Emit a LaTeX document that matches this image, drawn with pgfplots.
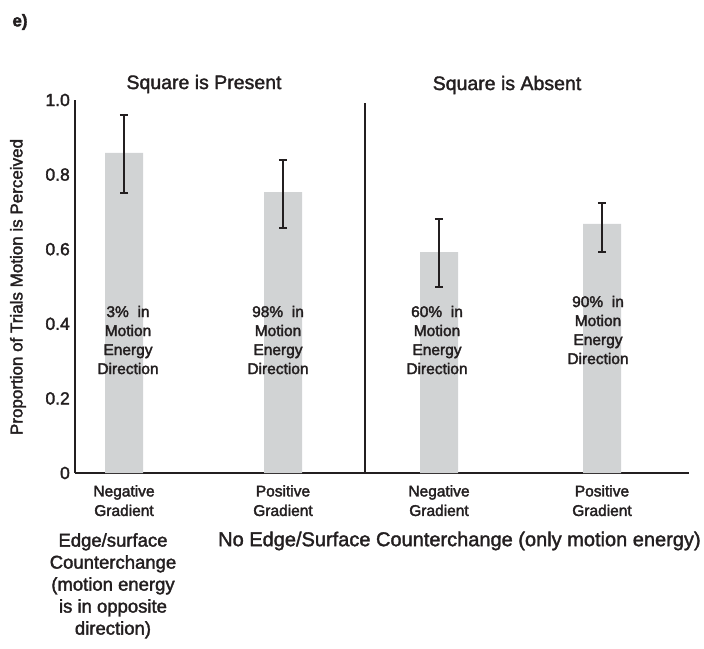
\documentclass[border=0pt]{standalone}
\usepackage{fontspec}
\setmainfont{Liberation Sans}
\usepackage{pgfplots}
\pgfplotsset{compat=1.18}
\usepackage{pgfplotstable}

\definecolor{bargray}{RGB}{209,211,212}
\definecolor{ink}{RGB}{35,31,32}
% slightly heavier glyphs: fill and stroke the text
\newcommand\hv{\special{pdf:literal direct 2 Tr 0.35 w}}

% x in pixels from the left end of the axis
\pgfplotstableread{
x   y     ep    em
49  0.858 0.102 0.107
208 0.753 0.086 0.096
364 0.592 0.089 0.093
527 0.668 0.056 0.076
}\bars

\begin{document}
\begin{tikzpicture}[every node/.style={text=ink}]
\useasboundingbox (-75pt,-175pt) rectangle (629pt,473pt);
\begin{axis}[
    scale only axis,
    width=614pt, height=373pt,
    xmin=0, xmax=614, ymin=0, ymax=1,
    axis x line=bottom, axis y line=left,
    axis line style={-, line width=2.2pt, color=ink},
    major tick length=0pt,
    xtick={49,208,364,527},
    xticklabels={Negative\\Gradient, Positive\\Gradient, Negative\\Gradient, Positive\\Gradient},
    xticklabel style={align=center, font=\hv\fontsize{15.5}{19.5}\selectfont, inner sep=0pt, yshift=-12pt},
    ytick={0,0.2,0.4,0.6,0.8,1},
    yticklabels={0,0.2,0.4,0.6,0.8,1.0},
    yticklabel style={font=\hv\fontsize{17.5}{20}\selectfont, inner sep=0pt, xshift=-5pt},
    clip=false,
]
\addplot[ybar, bar width=38pt, fill=bargray, draw=none,
    error bars/.cd, y dir=both, y explicit,
    error bar style={line width=2.8pt, color=ink},
    error mark options={rotate=90, mark size=4.2pt, line width=2.6pt, color=ink}]
    table[x=x, y=y, y error plus=ep, y error minus=em] {\bars};
\draw[line width=2.2pt, color=ink] (axis cs:290,0) -- (axis cs:290,0.992);
\end{axis}

% panel letter and titles
\node[font=\hv\bfseries\fontsize{17}{20}\selectfont] at (-55pt,451pt) {e)};
\node[font=\hv\fontsize{19.5}{22}\selectfont] at (129pt,389pt) {Square is Present};
\node[font=\hv\fontsize{19.5}{22}\selectfont] at (432pt,388pt) {Square is Absent};

% y axis label
\node[rotate=90, font=\hv\fontsize{17}{20}\selectfont] at (-57pt,186pt) {Proportion of Trials Motion is Perceived};

% notes on the bars
\begin{scope}[every node/.append style={align=center, font=\hv\fontsize{15.5}{19}\selectfont}]
\node at (53pt,133pt) {3\%\ \ in\\Motion\\Energy\\Direction};
\node at (203pt,133pt) {98\%\ \ in\\Motion\\Energy\\Direction};
\node at (362pt,133pt) {60\%\ \ in\\Motion\\Energy\\Direction};
\node at (523pt,143pt) {90\%\ \ in\\Motion\\Energy\\Direction};
\end{scope}

% group captions below
\node[anchor=north, align=center, inner sep=0pt, font=\hv\fontsize{18.5}{22}\selectfont] at (38pt,-60pt)
  {Edge/surface\\Counterchange\\(motion energy\\is in opposite\\direction)};
\node[anchor=west, inner sep=0pt, font=\hv\fontsize{20}{22}\selectfont] at (143pt,-68pt)
  {No Edge/Surface Counterchange (only motion energy)};
\end{tikzpicture}
\end{document}
